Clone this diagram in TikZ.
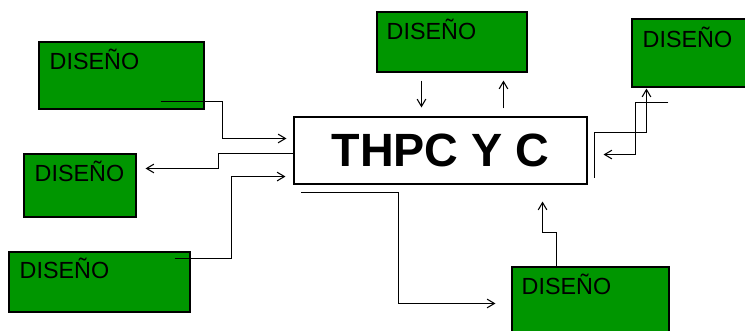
\documentclass[tikz,border=0pt]{standalone}
\usepackage{fontspec}
\setmainfont{Liberation Sans}
\usepackage{tikz}
\usetikzlibrary{arrows.meta, positioning, fit, calc}

\definecolor{disgreen}{RGB}{0,150,0}

\begin{document}
\begin{tikzpicture}[
    x=0.75pt, y=-0.75pt,
    design/.style={rectangle, draw=black, fill=disgreen, line width=0.8pt, inner sep=0pt},
    main/.style={rectangle, draw=black, fill=white, line width=0.8pt, inner sep=0pt, font=\fontsize{35}{40}\selectfont\bfseries},
    txt/.style={anchor=base west, inner sep=0pt, font=\fontsize{17.5}{20}\selectfont},
    arrow/.style={-{Straight Barb[length=5.5pt,width=6.5pt]}, line width=0.8pt},
    wire/.style={line width=0.8pt}
]
\useasboundingbox (0,0) rectangle (745,330);

\node[main, fit={(294,117) (587,184)}] (thpc) {};
\node at (thpc.center) [font=\fontsize{35}{40}\selectfont\bfseries, inner sep=0pt] (title) {THPC Y C};

\node[design, fit={(39,42) (204,109)}] (dis1) {};
\node[design, fit={(24,154) (136,217)}] (dis2) {};
\node[design, fit={(9,252) (190,312)}] (dis3) {};
\node[design, fit={(377,12) (527,72)}] (dis4) {};
\node[design, fit={(632,19) (747,87)}] (dis5) {};
\node[design, fit={(512,267) (669,332)}] (dis6) {};

\node[txt] (t1) at ([shift={(11,28)}]dis1.north west) {DISEÑO};
\node[txt] (t2) at ([shift={(11,28)}]dis2.north west) {DISEÑO};
\node[txt] (t3) at ([shift={(11,27)}]dis3.north west) {DISEÑO};
\node[txt] (t4) at ([shift={(10,28)}]dis4.north west) {DISEÑO};
\node[txt] (t5) at ([shift={(11,29)}]dis5.north west) {DISEÑO};
\node[txt] (t6) at ([shift={(10,28)}]dis6.north west) {DISEÑO};

% left side
\draw[arrow] ([shift={(-44,-8)}]dis1.south east) -- ++(62,0) |- ([shift={(-7,22)}]thpc.north west);
\draw[arrow] ([shift={(0,37)}]thpc.north west) -- ++(-75,0) |- ([shift={(9,15)}]dis2.north east);
\draw[arrow] ([shift={(-16,7)}]dis3.north east) -- ++(57,0) |- ([shift={(-8,-8)}]thpc.south west);

% top
\draw[arrow] ([shift={(45,8)}]dis4.south west) -- ([shift={(128,-9)}]thpc.north west);
\draw[arrow] ([shift={(210,-8)}]thpc.north west) -- ([shift={(127,8)}]dis4.south west);

% right side
\draw[arrow] ([shift={(7,-7)}]thpc.south east) -- ++(0,-45) -| ([shift={(15,1)}]dis5.south west);
\draw[arrow] ([shift={(37,15)}]dis5.south west) -- ++(-33,0) |- ([shift={(16,-30)}]thpc.south east);

% bottom
\draw[arrow] ([shift={(45,0)}]dis6.north west) -- ++(0,-34) -| ([shift={(-45,17)}]thpc.south east);
\draw[arrow] ([shift={(8,8)}]thpc.south west) -- ++(97,0) |- ([shift={(-16,37)}]dis6.north west);
\end{tikzpicture}
\end{document}
